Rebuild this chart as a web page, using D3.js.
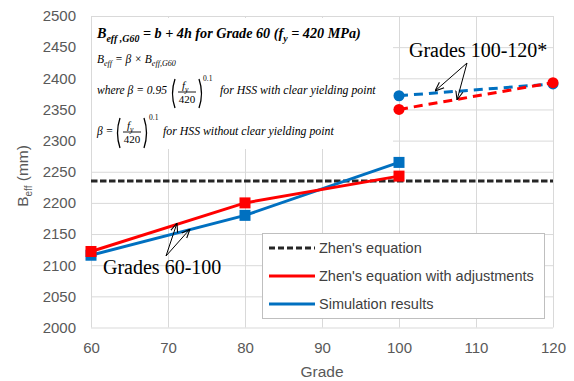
<!DOCTYPE html>
<html>
<head>
<meta charset="utf-8">
<script src="https://cdn.jsdelivr.net/npm/d3@7"></script>
<style>
  body { margin: 0; background: #fff; }
  svg { display: block; }
</style>
</head>
<body>
<div id="chart-area"></div>
<script>
// grades on the x axis
var grades = [60, 80, 100];
var hssGrades = [100, 120];
var zhenGrades = [60, 120];

// B_eff values (mm)
var zhenValues = [2235, 2235];
var adjustedValues = [2122, 2200, 2243];
var simulationValues = [2116, 2180, 2265];
var hssAdjustedValues = [2350, 2393];
var hssSimulationValues = [2372, 2391];

var xTicks = [60, 70, 80, 90, 100, 110, 120];
var yTicks = [2000, 2050, 2100, 2150, 2200, 2250, 2300, 2350, 2400, 2450, 2500];

var legendLabels = ["Zhen's equation", "Zhen's equation with adjustments", "Simulation results"];

var width = 574, height = 381;
var plotLeft = 91, plotRight = 553, plotTop = 16, plotBottom = 327.5;

var red = "#ff0000", blue = "#0070c0", dark = "#262626";

var x = d3.scaleLinear().domain([60, 120]).range([plotLeft, plotRight]);
var y = d3.scaleLinear().domain([2000, 2500]).range([plotBottom, plotTop]);

var svg = d3.select("#chart-area").append("svg")
    .attr("width", width)
    .attr("height", height);

// gridlines
svg.append("g")
    .attr("transform", "translate(0," + plotBottom + ")")
    .call(d3.axisBottom(x).tickValues(xTicks).tickSize(-(plotBottom - plotTop)).tickFormat(""))
    .call(function(g){ g.select(".domain").remove(); })
    .selectAll("line").attr("stroke", "#d9d9d9");
svg.append("g")
    .attr("transform", "translate(" + plotLeft + ",0)")
    .call(d3.axisLeft(y).tickValues(yTicks).tickSize(-(plotRight - plotLeft)).tickFormat(""))
    .call(function(g){ g.select(".domain").remove(); })
    .selectAll("line").attr("stroke", "#d9d9d9");

// tick labels
var xAxis = svg.append("g")
    .attr("transform", "translate(0," + plotBottom + ")")
    .call(d3.axisBottom(x).tickValues(xTicks).tickSize(0).tickPadding(15));
var yAxis = svg.append("g")
    .attr("transform", "translate(" + plotLeft + ",0)")
    .call(d3.axisLeft(y).tickValues(yTicks).tickSize(0).tickPadding(15).tickFormat(d3.format("d")));
[xAxis, yAxis].forEach(function(a){
    a.select(".domain").remove();
    a.selectAll("text")
        .attr("font-family", "Liberation Sans, Arial, sans-serif")
        .attr("font-size", 15)
        .attr("fill", "#595959");
});

// axis titles
svg.append("text")
    .attr("x", (plotLeft + plotRight) / 2)
    .attr("y", 377)
    .attr("text-anchor", "middle")
    .attr("font-family", "Liberation Sans, Arial, sans-serif")
    .attr("font-size", 15.5)
    .attr("fill", "#595959")
    .text("Grade");
var yTitle = svg.append("text")
    .attr("transform", "translate(28,176) rotate(-90)")
    .attr("text-anchor", "middle")
    .attr("font-family", "Liberation Sans, Arial, sans-serif")
    .attr("font-size", 15.5)
    .attr("fill", "#595959");
yTitle.append("tspan").text("B");
yTitle.append("tspan").attr("font-size", 10).attr("dy", 4).text("eff");
yTitle.append("tspan").attr("dy", -4).text(" (mm)");

// formula box
svg.append("rect")
    .attr("x", 92).attr("y", 18)
    .attr("width", 301).attr("height", 131)
    .attr("fill", "#fff");

var serif = "Liberation Serif, Times New Roman, serif";
function mathText(px, py, size, parts, bold){
    var t = svg.append("text")
        .attr("x", px).attr("y", py)
        .attr("font-family", serif)
        .attr("font-style", "italic")
        .attr("font-weight", bold ? "bold" : "normal")
        .attr("font-size", size)
        .attr("fill", "#000");
    var shift = 0;
    parts.forEach(function(p){
        var s = typeof p === "string" ? { t: p } : p;
        var want = s.sub ? size * 0.3 : 0;
        t.append("tspan")
            .attr("dy", want - shift)
            .attr("font-size", s.sub ? size * 0.7 : size)
            .text(s.t);
        shift = want;
    });
    return t;
}
function paren(px, y0, y1, open){
    var d = open ? -5 : 5;
    svg.append("path")
        .attr("d", "M" + px + "," + y0 + " Q" + (px + d) + "," + ((y0 + y1) / 2) + " " + px + "," + y1)
        .attr("fill", "none")
        .attr("stroke", "#000")
        .attr("stroke-width", 1.3);
}
function fraction(cx, lineY, size){
    mathText(cx - 5, lineY - 3, size, ["f", { t: "y", sub: true }]);
    svg.append("line")
        .attr("x1", cx - 9).attr("x2", cx + 9)
        .attr("y1", lineY).attr("y2", lineY)
        .attr("stroke", "#000").attr("stroke-width", 0.9);
    svg.append("text")
        .attr("x", cx).attr("y", lineY + 11)
        .attr("text-anchor", "middle")
        .attr("font-family", serif)
        .attr("font-size", size)
        .text("420");
}

mathText(97, 38, 14.2, ["B", { t: "eff ,G60", sub: true }, " = b + 4h  for Grade 60 (f", { t: "y", sub: true }, " = 420 MPa)"], true);
mathText(97, 63, 11.5, ["B", { t: "eff", sub: true }, " = β × B", { t: "eff,G60", sub: true }]);

mathText(97, 94, 11.5, ["where β = 0.95"]);
paren(175, 79, 108, true);
fraction(187, 92, 11);
paren(199, 79, 108, false);
svg.append("text").attr("x", 203).attr("y", 81)
    .attr("font-family", serif).attr("font-size", 7.5).text("0.1");
mathText(220, 94, 11.8, ["for HSS with clear yielding point"]);

mathText(97, 135, 11.5, ["β ="]);
paren(120, 118, 148, true);
fraction(132, 132, 11);
paren(144, 118, 148, false);
svg.append("text").attr("x", 149).attr("y", 120)
    .attr("font-family", serif).attr("font-size", 7.5).text("0.1");
mathText(163, 135, 11.8, ["for HSS without clear yielding point"]);

// series
var line = d3.line()
    .x(function(d){ return x(d[0]); })
    .y(function(d){ return y(d[1]); });

svg.append("path")
    .datum(d3.zip(zhenGrades, zhenValues))
    .attr("d", line)
    .attr("fill", "none")
    .attr("stroke", dark)
    .attr("stroke-width", 3)
    .attr("stroke-dasharray", "6.5,2.5");

function solidSeries(values, color){
    var pts = d3.zip(grades, values);
    svg.append("path").datum(pts).attr("d", line)
        .attr("fill", "none").attr("stroke", color).attr("stroke-width", 3);
    svg.selectAll(null).data(pts).enter().append("rect")
        .attr("x", function(d){ return x(d[0]) - 5.5; })
        .attr("y", function(d){ return y(d[1]) - 5.5; })
        .attr("width", 11).attr("height", 11)
        .attr("fill", color);
}
function dashedSeries(values, color){
    var pts = d3.zip(hssGrades, values);
    svg.append("path").datum(pts).attr("d", line)
        .attr("fill", "none").attr("stroke", color).attr("stroke-width", 3)
        .attr("stroke-dasharray", "9,6");
    svg.selectAll(null).data(pts).enter().append("circle")
        .attr("cx", function(d){ return x(d[0]); })
        .attr("cy", function(d){ return y(d[1]); })
        .attr("r", 5.5)
        .attr("fill", color);
}
solidSeries(simulationValues, blue);
solidSeries(adjustedValues, red);
dashedSeries(hssSimulationValues, blue);
dashedSeries(hssAdjustedValues, red);

// annotations
var defs = svg.append("defs");
defs.append("marker")
    .attr("id", "head")
    .attr("viewBox", "0 0 10 10")
    .attr("refX", 10).attr("refY", 5)
    .attr("markerWidth", 9).attr("markerHeight", 9)
    .attr("markerUnits", "userSpaceOnUse")
    .attr("orient", "auto")
    .append("path")
    .attr("d", "M0,1 L10,5 L0,9")
    .attr("fill", "none")
    .attr("stroke", "#000")
    .attr("stroke-width", 1.2);

function arrow(x1, y1, x2, y2){
    svg.append("line")
        .attr("x1", x1).attr("y1", y1).attr("x2", x2).attr("y2", y2)
        .attr("stroke", "#000").attr("stroke-width", 1)
        .attr("marker-end", "url(#head)");
}
svg.append("text")
    .attr("x", 103).attr("y", 274)
    .attr("font-family", serif).attr("font-size", 20)
    .text("Grades 60-100");
arrow(166, 256, 177, 223);
arrow(166, 256, 190, 229);

svg.append("text")
    .attr("x", 409).attr("y", 57)
    .attr("font-family", serif).attr("font-size", 20)
    .text("Grades 100-120*");
arrow(467, 63, 435, 91);
arrow(467, 63, 457, 100);

// legend
var legend = svg.append("g");
legend.append("rect")
    .attr("x", 262.5).attr("y", 233.5)
    .attr("width", 282).attr("height", 85)
    .attr("fill", "#fff")
    .attr("stroke", "#bfbfbf");
var legendStyles = [
    { color: dark, dash: "6,3" },
    { color: red, dash: null },
    { color: blue, dash: null }
];
legendLabels.forEach(function(label, i){
    var ly = 248 + i * 28;
    legend.append("line")
        .attr("x1", 269).attr("x2", 315)
        .attr("y1", ly).attr("y2", ly)
        .attr("stroke", legendStyles[i].color)
        .attr("stroke-width", 3)
        .attr("stroke-dasharray", legendStyles[i].dash);
    legend.append("text")
        .attr("x", 319).attr("y", ly)
        .attr("dy", "0.35em")
        .attr("font-family", "Liberation Sans, Arial, sans-serif")
        .attr("font-size", 14.5)
        .attr("fill", "#404040")
        .text(label);
});
</script>
</body>
</html>
